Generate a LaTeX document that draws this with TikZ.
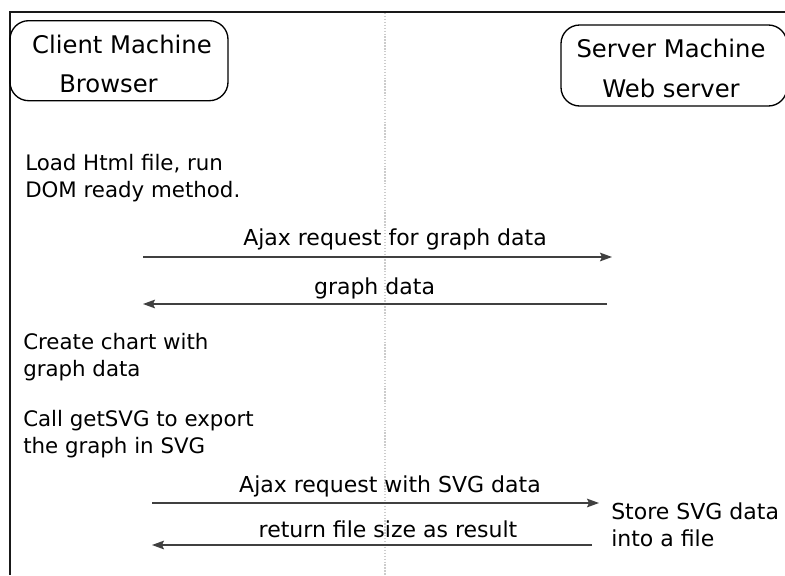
\documentclass[tikz,border=0pt]{standalone}
\usepackage{fontspec}
\setmainfont{DejaVu Sans}
\usetikzlibrary{arrows.meta}

\begin{document}
\begin{tikzpicture}[x=0.75pt,y=-0.75pt,
    box/.style={draw,rounded corners=14pt,line width=1pt,inner sep=0pt},
    boxtxt/.style={anchor=base,inner sep=0pt,font=\fontsize{18.2}{22}\selectfont},
    note/.style={anchor=north west,align=left,inner sep=0pt,
      font=\fontsize{16}{20.25}\selectfont},
    lbl/.style={anchor=base,inner sep=0pt,font=\fontsize{16.5}{20}\selectfont},
    msg/.style={-{Stealth[length=9pt,width=6.5pt,inset=1.5pt]},black!75,line width=0.85pt}]
  \useasboundingbox (0,0) rectangle (785,575);
  \draw[black!90,line width=1.5pt] (785,12) -| (10,575);
  \draw[black!20,line width=0.8pt,dash pattern=on 1pt off 1.2pt] (385,13) -- (385,575);

  \node[box,minimum width=163.5pt,minimum height=60pt] (client) at (119,60.7) {};
  \node[boxtxt] (clientname) at (122,53) {Client Machine};
  \node[boxtxt] (browser) at (108.5,92) {Browser};
  \node[box,minimum width=169.5pt,minimum height=60.75pt] (server) at (674,65.5) {};
  \node[boxtxt] (servername) at (671,57) {Server Machine};
  \node[boxtxt] (webserver) at (671,97) {Web server};

  \node[note] (load) at (25,154) {Load Html file, run\\DOM ready method.};
  \node[note] (create) at (23,333) {Create chart with\\graph data};
  \node[note] (export) at (23,410) {Call getSVG to export\\the graph in SVG};
  \node[note,font=\fontsize{16.5}{20.25}\selectfont] (store) at (611,503) {Store SVG data\\into a file};

  \coordinate (cl1) at (143,257);  \coordinate (sv1) at (612,257);
  \coordinate (cl2) at (143,304);  \coordinate (sv2) at (607,304);
  \coordinate (cl3) at (152,503);  \coordinate (sv3) at (599,503);
  \coordinate (cl4) at (152,545);  \coordinate (sv4) at (592,545);

  \draw[msg] (cl1) -- (sv1);
  \draw[msg] (sv2) -- (cl2);
  \draw[msg] (cl3) -- (sv3);
  \draw[msg] (sv4) -- (cl4);

  \node[lbl] (req1) at (395,245) {Ajax request for graph data};
  \node[lbl] (resp1) at (374.5,294) {graph data};
  \node[lbl] (req2) at (390,492) {Ajax request with SVG data};
  \node[lbl] (resp2) at (388,537) {return file size as result};
\end{tikzpicture}
\end{document}
